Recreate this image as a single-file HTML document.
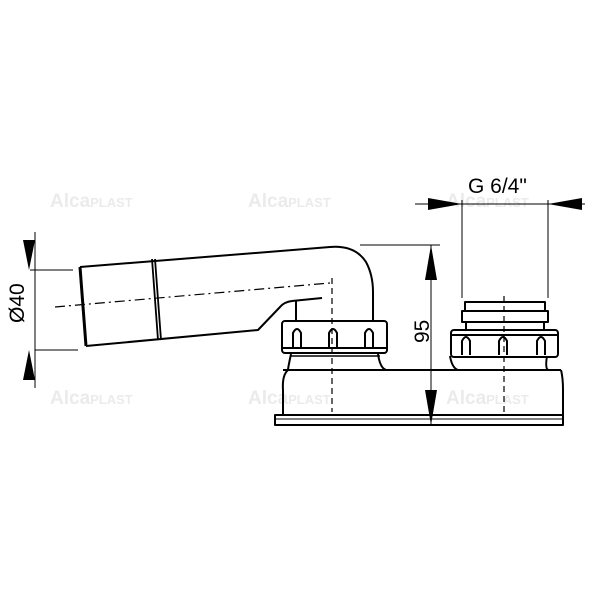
<!DOCTYPE html>
<html><head><style>body{margin:0;background:#fff}svg{display:block}</style></head><body>
<svg width="600" height="600" viewBox="0 0 600 600" xmlns="http://www.w3.org/2000/svg" font-family="Liberation Sans, sans-serif">
<g fill="#ebebeb" font-size="19" font-weight="bold">
<text x="50" y="207">Alca<tspan font-size="13">PLAST</tspan></text>
<text x="248" y="207">Alca<tspan font-size="13">PLAST</tspan></text>
<text x="446" y="207">Alca<tspan font-size="13">PLAST</tspan></text>
<text x="50" y="404">Alca<tspan font-size="13">PLAST</tspan></text>
<text x="248" y="404">Alca<tspan font-size="13">PLAST</tspan></text>
<text x="446" y="404">Alca<tspan font-size="13">PLAST</tspan></text>
</g>
<g fill="none" stroke="#000" stroke-width="2" stroke-linejoin="round">
<path d="M80,267 L330,247 Q355,245 366,262 Q373,275 373,292 L373,320"/>
<path d="M86,346 L258,330 L280,307 Q284,302 292,301 L322,298"/>
<path d="M80,267 L86,346" stroke-width="3"/>
<path d="M152,259 L158,340 M155,259 L161,340" stroke-width="1.8"/>
<path d="M296,301 L296,320"/>
<rect x="282" y="321" width="105" height="32" rx="3"/>
<path d="M282,348 L387,348"/>
<path d="M293,348 V333 Q297,325 301,333 V348 M329,348 V333 Q333,325 337,333 V348 M365,348 V333 Q369,325 373,333 V348"/>
<path d="M291,354 Q288,368 288,370 M378,354 Q380,368 386,370"/>
<path d="M290,356 H380" stroke-width="1.5"/>
<path d="M288,370 Q282,375 283,390 L283,415 M283,370 H561 M561,370 Q563,378 563,390 L563,415"/>
<path d="M450,356 Q452,368 458,370 M547,356 Q545,368 548,370"/>
<rect x="465" y="302" width="80" height="9"/>
<path d="M462,311 H548 L548,322 H462 Z M466,322 V331 M544,322 V331"/>
<rect x="451" y="330" width="107" height="27" rx="3"/>
<path d="M451,335 H558"/>
<path d="M462,355 V341 Q466,333 470,341 V355 M499,355 V341 Q503,333 507,341 V355 M537,355 V341 Q541,333 545,341 V355"/>
<rect x="275" y="415" width="288" height="10"/>
<path d="M276,419 H562" stroke-width="1"/>
</g>
<g stroke="#000" stroke-width="1.2" fill="none" stroke-dasharray="10,4,2,4">
<path d="M55,307 L330,283"/>
<path d="M332,278 V412" stroke-dasharray="6,4"/>
<path d="M504,296 V412" stroke-dasharray="6,4"/>
</g>
<g stroke="#000" stroke-width="1" fill="none">
<path d="M360,245 H440 M431,245 V425"/>
<path d="M462,200 V298 M548,200 V298 M415,204 H585"/>
<path d="M30,270 H73 M35,350 H78 M35,232 V388"/>
</g>
<g fill="#000">
<path d="M431,245 L425,280 L437,280 Z M431,425 L425,390 L437,390 Z"/>
<path d="M462,204 L428,198 L428,210 Z M548,204 L582,198 L582,210 Z"/>
<path d="M29,270 L23,240 L35,240 Z M29,350 L23,380 L35,380 Z"/>
</g>
<g font-size="21" fill="#000">
<text x="468" y="193">G 6/4"</text>
<text transform="translate(429,343) rotate(-90)">95</text>
<text transform="translate(24,323) rotate(-90)">Ø40</text>
</g>
</svg>
</body></html>
